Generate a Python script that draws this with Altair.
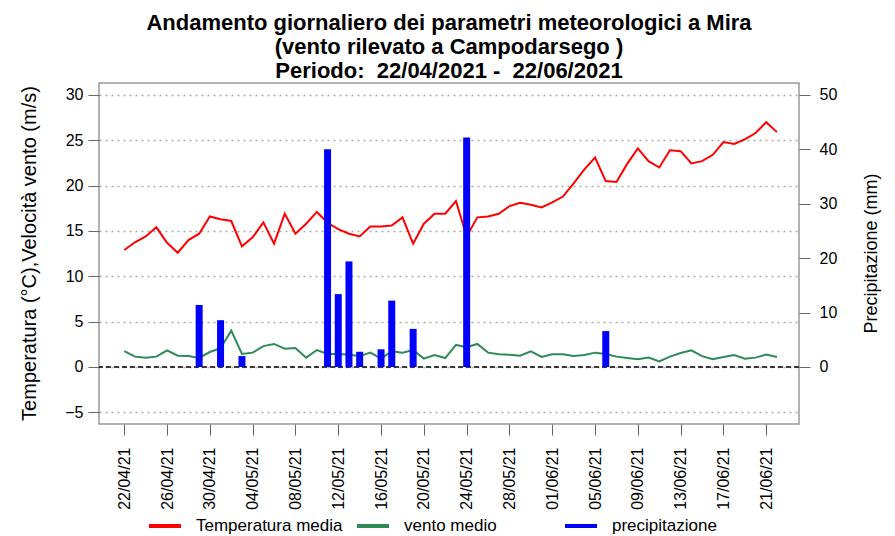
import altair as alt
import pandas as pd

# Giorni: 22/04/2021 (giorno 0) ... 22/06/2021 (giorno 61)
giorni = list(range(62))

temperatura = [
    12.9, 13.75, 14.4, 15.4, 13.7, 12.6, 14.0, 14.7, 16.6, 16.3,
    16.1, 13.3, 14.3, 15.95, 13.6, 16.9, 14.7, 15.8, 17.1, 15.9,
    15.2, 14.7, 14.4, 15.5, 15.5, 15.6, 16.5, 13.6, 15.8, 16.9,
    16.9, 18.3, 14.4, 16.5, 16.6, 16.9, 17.75, 18.1, 17.9, 17.6,
    18.15, 18.8, 20.25, 21.8, 23.1, 20.5, 20.4, 22.4, 24.1, 22.7,
    22.0, 23.9, 23.8, 22.45, 22.7, 23.4, 24.8, 24.6, 25.1, 25.8,
    27.0, 25.9,
]

vento = [
    1.76, 1.14, 1.03, 1.14, 1.84, 1.25, 1.2, 0.99, 1.65, 2.06,
    4.0, 1.43, 1.58, 2.3, 2.54, 2.02, 2.1, 1.03, 1.87, 1.43,
    1.43, 1.36, 1.2, 1.58, 0.92, 1.73, 1.58, 1.87, 0.92, 1.32,
    0.98, 2.43, 2.17, 2.54, 1.58, 1.4, 1.36, 1.25, 1.73, 1.1,
    1.4, 1.4, 1.2, 1.32, 1.58, 1.43, 1.14, 0.99, 0.85, 1.03,
    0.62, 1.14, 1.54, 1.84, 1.2, 0.85, 1.1, 1.32, 0.92, 1.03,
    1.36, 1.1,
]

precipitazione = [
    0, 0, 0, 0, 0, 0, 0, 11.4, 0, 8.6,
    0, 2.0, 0, 0, 0, 0, 0, 0, 0, 40.0,
    13.4, 19.4, 2.8, 0, 3.25, 12.2, 0, 7.0, 0, 0,
    0, 0, 42.2, 0, 0, 0, 0, 0, 0, 0,
    0, 0, 0, 0, 0, 6.6, 0, 0, 0, 0,
    0, 0, 0, 0, 0, 0, 0, 0, 0, 0,
    0, 0,
]

serie = ["Temperatura media", "vento medio", "precipitazione"]
colori = ["#FF0000", "#2E8B57", "#0000FF"]
tick_giorni = [0, 4, 8, 12, 16, 20, 24, 28, 32, 36, 40, 44, 48, 52, 56, 60]
tick_sx = [-5, 0, 5, 10, 15, 20, 25, 30]
tick_dx = [0, 10, 20, 30, 40, 50]

NB = "\u00a0"
titolo = [
    "Andamento giornaliero dei parametri meteorologici a Mira",
    "(vento rilevato a Campodarsego )",
    "Periodo:" + NB + " 22/04/2021 -" + NB + " 22/06/2021",
]

df = pd.DataFrame({
    "giorno": giorni,
    "Temperatura media": temperatura,
    "vento medio": vento,
    "precipitazione": precipitazione,
})
linee_df = df.melt(id_vars="giorno", value_vars=["Temperatura media", "vento medio"],
                   var_name="serie", value_name="valore")
pioggia_df = df[df["precipitazione"] > 0].assign(serie="precipitazione")

FONT = "Liberation Sans"

colore = alt.Color(
    "serie:N",
    scale=alt.Scale(domain=serie, range=colori),
    legend=alt.Legend(
        title=None, orient="none", legendX=48, legendY=425,
        direction="horizontal", columns=3, gridAlign="all",
        symbolType="stroke", symbolSize=1024, symbolStrokeWidth=4,
        labelFontSize=17, labelFont=FONT, labelColor="black",
        labelOffset=13, columnPadding=6,
    ),
)

asse_x = alt.X(
    "giorno:Q",
    scale=alt.Scale(domain=[-2.36, 63.06], nice=False, zero=False),
    axis=alt.Axis(
        values=tick_giorni,
        labelExpr="timeFormat(datetime(2021, 3, 22 + datum.value), '%d/%m/%y')",
        labelAngle=270, title=None, grid=False, domain=False,
        tickSize=11, labelPadding=12, labelFontSize=16,
    ),
)

y_sx = alt.Y(
    "valore:Q",
    scale=alt.Scale(domain=[-6.29, 31.32], nice=False, zero=False),
    axis=alt.Axis(
        values=tick_sx, title="Temperatura (°C),Velocità vento (m/s)",
        grid=True, gridDash=[2, 4], gridColor="#aaaaaa", gridWidth=1.3,
        domain=False, tickSize=11, labelPadding=5, labelFontSize=16,
        titleFontSize=20, titleFontWeight="normal",
        titleAngle=270, titleX=-70, titleY=170, titleAlign="center",
        titleBaseline="middle",
    ),
)

linee = alt.Chart(linee_df).mark_line(strokeWidth=2).encode(
    x=asse_x, y=y_sx, color=colore,
)

zero = alt.Chart(pd.DataFrame({"z": [0]})).mark_rule(
    color="black", strokeDash=[5, 3], strokeWidth=1.6
).encode(y=alt.Y("z:Q"))

sinistra = alt.layer(linee, zero)

pioggia = alt.Chart(pioggia_df).mark_rule(strokeWidth=7).encode(
    x=alt.X("giorno:Q"),
    y=alt.Y(
        "precipitazione:Q",
        scale=alt.Scale(domain=[-10.48, 52.2], nice=False, zero=False),
        axis=alt.Axis(
            values=tick_dx, title="Precipitazione (mm)", grid=False,
            domain=False, tickSize=11, labelPadding=9, labelFontSize=16,
            titleFontSize=18, titleFontWeight="normal",
            titleAngle=270, titleX=72, titleY=170, titleAlign="center",
            titleBaseline="middle",
        ),
    ),
    y2=alt.datum(0),
    color=colore,
)

chart = alt.layer(sinistra, pioggia).resolve_scale(y="independent").properties(
    width=700, height=341,
    autosize=alt.AutoSizeParams(type="none"),
    padding={"left": 91, "top": 75, "right": 88, "bottom": 110},
    title=alt.TitleParams(
        text=titolo, font=FONT, fontSize=22, fontWeight="bold",
        anchor="middle", offset=0, lineHeight=24, color="black",
    ),
).configure_view(
    stroke="#999999", strokeWidth=1.5,
).configure_axis(
    labelFont=FONT, titleFont=FONT, labelColor="black", titleColor="black",
    tickColor="#666666", tickWidth=1,
)

chart.save("out.html", embed_options={"renderer": "svg", "actions": False})
